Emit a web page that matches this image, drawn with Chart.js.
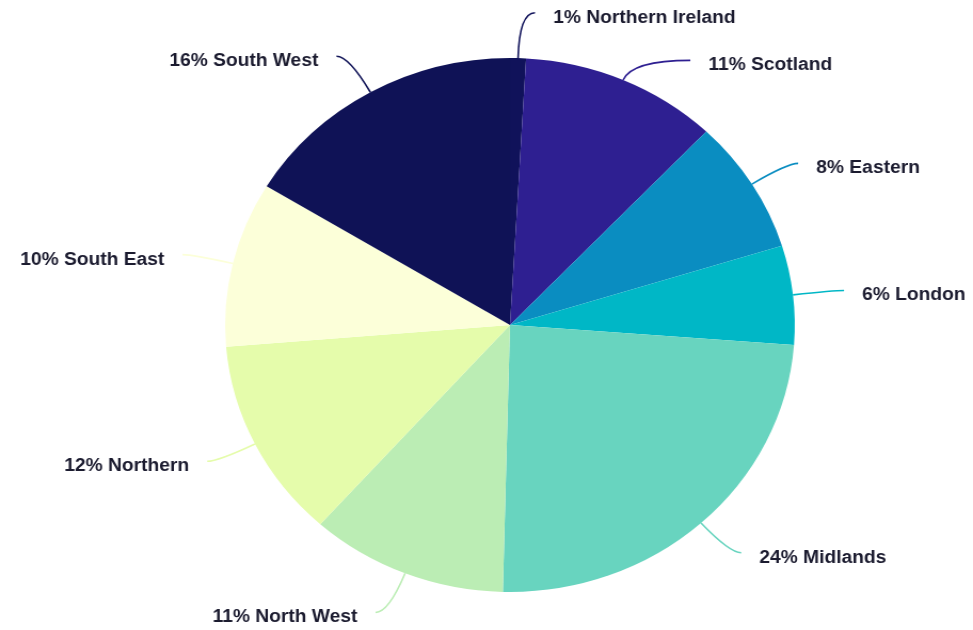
<!DOCTYPE html>
<html>
<head>
<meta charset="utf-8">
<script src="https://cdn.jsdelivr.net/npm/chart.js@4.4.1/dist/chart.umd.min.js"></script>
<style>
    html, body { margin: 0; padding: 0; background: #fff; }
    #chart { display: block; }
</style>
</head>
<body>
<canvas id="chart" width="912" height="630" style="width:973px;height:630px"></canvas>
<script>
// Data
const regions = ["Northern Ireland", "Scotland", "Eastern", "London", "Midlands", "North West", "Northern", "South East", "South West"];
const shares = [0.9, 11.2, 8.1, 6.0, 24.2, 11.2, 12.1, 10.0, 16.3];
const sliceColors = ["#10125a", "#2e1f91", "#0a8dc1", "#00b7c6", "#68d4bf", "#bbedb4", "#e5fcab", "#fcffd9", "#0f1256"];

// Labels with curved leader lines
const leaderLabels = {
    id: "leaderLabels",
    afterDatasetsDraw(chart) {
        const ctx = chart.ctx;
        const arcs = chart.getDatasetMeta(0).data;
        const total = shares.reduce((a, b) => a + b, 0);
        const placed = [];
        ctx.save();
        ctx.font = "bold 18px 'Liberation Sans', Arial, sans-serif";
        ctx.textBaseline = "middle";
        arcs.forEach((arc, i) => {
            const {x, y, startAngle, endAngle, outerRadius} =
                arc.getProps(["x", "y", "startAngle", "endAngle", "outerRadius"], true);
            let mid = (startAngle + endAngle) / 2;
            mid = Math.atan2(Math.sin(mid), Math.cos(mid));
            const right = Math.cos(mid) >= 0;
            let target = 0;
            if (!right) {
                if (mid < 0) mid += Math.PI * 2;
                target = Math.PI;
            }
            const text = Math.round(shares[i] / total * 100) + "% " + regions[i];
            const w = ctx.measureText(text).width;
            const p0 = {x: x + outerRadius * Math.cos(mid), y: y + outerRadius * Math.sin(mid)};

            let a = mid + 0.2 * (target - mid);
            let len = 48;
            let end, box;
            for (let k = 0; k < 40; k++) {
                end = {x: p0.x + len * Math.cos(a), y: p0.y + len * Math.sin(a)};
                const tx = right ? end.x + 17 : end.x - 17 - w;
                box = {x1: tx, x2: tx + w, cy: end.y + 5};
                const hit = placed.some(b => b.x1 < box.x2 && box.x1 < b.x2 && Math.abs(b.cy - box.cy) < 44);
                if (!hit) break;
                a += (target - a > 0 ? 1 : -1) * Math.PI / 45;
                len += 2;
            }
            placed.push(box);

            // control point: radial line meets the label's horizontal
            const rx = Math.cos(mid), ry = Math.sin(mid);
            let t = Math.abs(ry) > 0.05 ? (end.y - p0.y) / ry : len / 2;
            t = Math.max(0, Math.min(len, t));
            const c = {x: p0.x + rx * t, y: p0.y + ry * t};

            ctx.strokeStyle = sliceColors[i];
            ctx.lineWidth = 1.6;
            ctx.beginPath();
            ctx.moveTo(p0.x, p0.y);
            ctx.quadraticCurveTo(c.x, c.y, end.x, end.y);
            ctx.stroke();

            ctx.fillStyle = "#1b1b2f";
            ctx.textAlign = "left";
            ctx.fillText(text, box.x1, box.cy);
        });
        ctx.restore();
    }
};

new Chart(document.getElementById("chart"), {
    type: "pie",
    data: {
        labels: regions,
        datasets: [{
            data: shares,
            backgroundColor: sliceColors,
            borderWidth: 0
        }]
    },
    options: {
        responsive: false,
        animation: false,
        devicePixelRatio: 1,
        layout: {
            padding: {left: 211, right: 167, top: 58, bottom: 38}
        },
        plugins: {
            legend: {display: false},
            tooltip: {enabled: false}
        }
    },
    plugins: [leaderLabels]
});
</script>
</body>
</html>
